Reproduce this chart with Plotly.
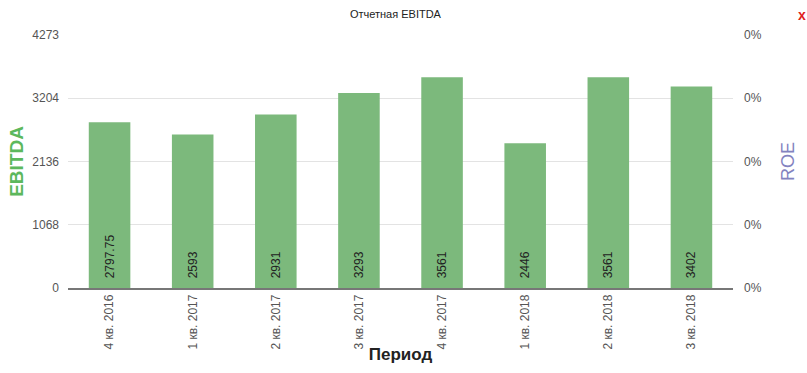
import plotly.graph_objects as go

periods = ["4 кв. 2016", "1 кв. 2017", "2 кв. 2017", "3 кв. 2017",
           "4 кв. 2017", "1 кв. 2018", "2 кв. 2018", "3 кв. 2018"]
ebitda = [2797.75, 2593, 2931, 3293, 3561, 2446, 3561, 3402]
ebitda_labels = ["2797.75", "2593", "2931", "3293", "3561", "2446", "3561", "3402"]
left_ticks = [0, 1068, 2136, 3204, 4273]
right_ticktext = ["0%", "0%", "0%", "0%", "0%"]

fig = go.Figure()
fig.add_trace(go.Bar(
    x=periods, y=ebitda, text=ebitda_labels, texttemplate="\u00a0\u00a0%{text}",
    textposition="inside", insidetextanchor="start", textangle=-90,
    textfont=dict(size=12, color="#222222", family="Arial"),
    marker=dict(color="rgb(124,185,124)", line=dict(width=0)),
    width=0.5, yaxis="y", showlegend=False, hoverinfo="x+y",
))
# invisible helper trace to anchor the ROE axis
fig.add_trace(go.Scatter(x=periods, y=[None]*len(periods), yaxis="y2",
                         showlegend=False, hoverinfo="skip"))

fig.update_layout(
    width=807, height=373,
    margin=dict(l=68, r=74, t=35, b=85, autoexpand=False),
    paper_bgcolor="white", plot_bgcolor="white",
    font=dict(family="Arial", size=12, color="#555555"),
    title=dict(text="Отчетная EBITDA", x=0.49, xanchor="center", y=0.962, yanchor="middle",
               font=dict(size=11, color="#222222")),
    bargap=0.5,
    xaxis=dict(tickangle=-90, showgrid=False, showline=True, linecolor="#777777", linewidth=1.5,
               ticks="", tickfont=dict(size=12, color="#555555"), automargin=False,
               title=dict(text="<b>Период</b>", font=dict(size=17, color="#222222"),
                          standoff=0)),
    yaxis=dict(range=[0, 4273], tickvals=left_ticks, ticktext=[str(v) for v in left_ticks],
               showgrid=True, gridcolor="#e3e3e3", gridwidth=1, zeroline=False,
               showline=False, ticks="", ticklabelstandoff=8, automargin=False,
               tickfont=dict(size=12, color="#555555"),
               title=dict(text="<b>EBITDA</b>", font=dict(size=19, color="#5cb85c"), standoff=3)),
    yaxis2=dict(range=[0, 4273], tickvals=left_ticks, ticktext=right_ticktext,
                overlaying="y", side="right", showgrid=False, zeroline=False, showline=False,
                ticks="", ticklabelstandoff=10, tickfont=dict(size=12, color="#555555"),
                automargin=False,
                title=dict(text="ROE", font=dict(size=18, color="#8383c0"), standoff=20)),
    annotations=[dict(text="<b>x</b>", xref="paper", yref="paper", x=1.0, y=1.0, xanchor="right",
                      yanchor="top", yshift=30, xshift=75,
                      font=dict(size=14, color="#e02020"), showarrow=False)],
)
fig.write_html("out.html", config={"displayModeBar": False},
               post_script="document.body.style.margin='0';")
